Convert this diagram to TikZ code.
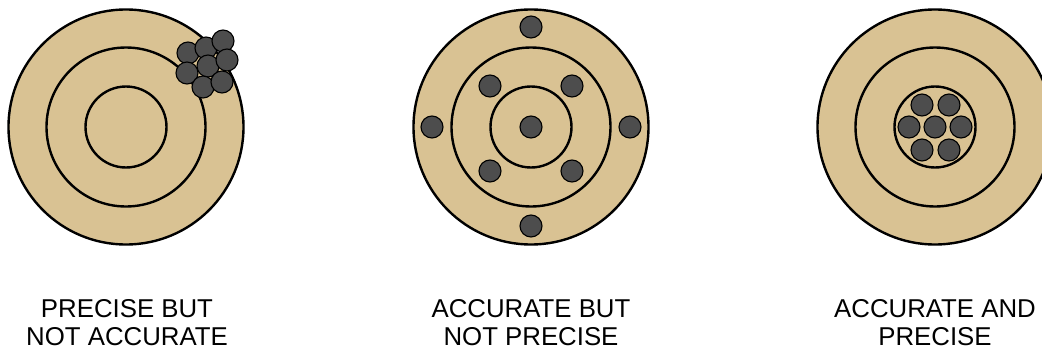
\documentclass[tikz,border=0pt]{standalone}
\usepackage{fontspec}
\setmainfont{Liberation Sans}
\usepackage{tikz}
\definecolor{target}{HTML}{D9C293}
\definecolor{shot}{HTML}{4D4D4D}
\tikzset{
  ring/.style={draw=black, line width=2.4pt},
  hit/.style={fill=shot, draw=black, line width=1.1pt},
  caption/.style={font=\fontsize{25.8}{28}\selectfont, align=center, anchor=base}
}
\begin{document}
\begin{tikzpicture}[x=1pt, y=-1pt]
\useasboundingbox (0,0) rectangle (1042,353);
\clip (0,0) rectangle (1042,353);
% Targets: outer, middle and inner rings
\foreach \cx in {126, 531, 935}{
    \filldraw[ring, fill=target] (\cx,127) circle (117.5);
    \draw[ring] (\cx,127) circle (79.5);
    \draw[ring] (\cx,127) circle (40.5);
}
% Hits -- precise but not accurate
\foreach \hx/\hy in {188/53, 206/48, 223/41, 187/73, 208/66, 227/60, 203/87, 222/82}{
    \filldraw[hit] (\hx,\hy) circle (11);
}
% Hits -- accurate but not precise
\foreach \hx/\hy in {531/27, 432/127, 630/127, 531/226,
                     490/86, 572/86, 490/171, 572/171, 531/127}{
    \filldraw[hit] (\hx,\hy) circle (11);
}
% Hits -- accurate and precise
\foreach \hx/\hy in {922/105, 949/105, 909/127, 935/127, 961/127, 922/150, 949/150}{
    \filldraw[hit] (\hx,\hy) circle (11);
}
% Captions
\node[caption] (lblA) at (127,345) {PRECISE BUT\\NOT ACCURATE};
\node[caption] (lblB) at (531,345) {ACCURATE BUT\\NOT PRECISE};
\node[caption] (lblC) at (935,345) {ACCURATE AND\\PRECISE};
\end{tikzpicture}
\end{document}
